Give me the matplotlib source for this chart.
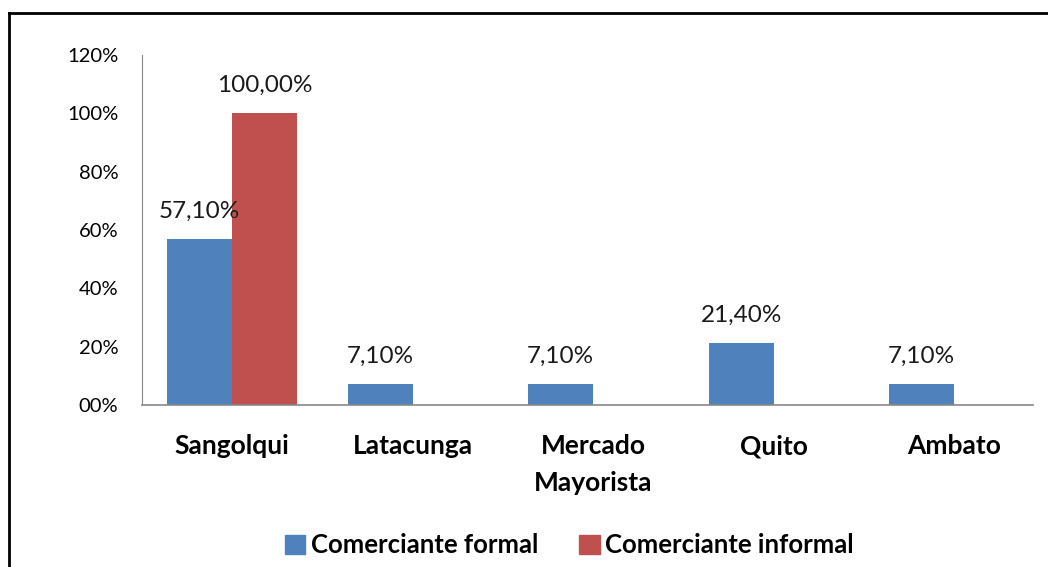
import matplotlib.pyplot as plt
import numpy as np
from matplotlib.lines import Line2D
from matplotlib.patches import Patch

plt.rcParams["font.family"] = ["Lato", "DejaVu Sans"]

ciudades = ["Sangolqui", "Latacunga", "Mercado\nMayorista", "Quito", "Ambato"]
formal = [57.1, 7.1, 7.1, 21.4, 7.1]
informal = [100.0, 0, 0, 0, 0]
formal_txt = ["57,10%", "7,10%", "7,10%", "21,40%", "7,10%"]
informal_txt = ["100,00%", "", "", "", ""]
yticks = [0, 20, 40, 60, 80, 100, 120]

azul = "#4F81BD"
rojo = "#C0504D"

fig = plt.figure(figsize=(10.48, 5.67), dpi=100)
ax = fig.add_axes([0.1355, 0.2857, 0.8500, 0.617])

x = np.arange(len(ciudades))
w = 0.36
b1 = ax.bar(x - w / 2, formal, w, color=azul)
b2 = ax.bar(x + w / 2, informal, w, color=rojo)

for r, t in zip(b1, formal_txt):
    ax.text(r.get_x() + r.get_width() / 2, r.get_height() + 9.5, t,
            ha="center", va="center", fontsize=17.5, color="#1a1a1a")
for r, t in zip(b2, informal_txt):
    if t:
        ax.text(r.get_x() + r.get_width() / 2, r.get_height() + 9.5, t,
                ha="center", va="center", fontsize=17.5, color="#1a1a1a")

ax.set_xlim(-0.5, 4.436)
ax.set_ylim(0, 120)
ax.set_yticks(yticks)
ax.set_yticklabels([f"{v:02d}%" for v in yticks], fontsize=14.5)
ax.set_xticks(x)
ax.set_xticklabels(ciudades, fontsize=19, fontweight="bold", va="top", linespacing=1.65)
ax.tick_params(axis="both", length=0)
ax.tick_params(axis="y", pad=17)
ax.tick_params(axis="x", pad=21)
for s in ["top", "right"]:
    ax.spines[s].set_visible(False)
ax.spines["left"].set_color("#888888")
ax.spines["bottom"].set_color("#888888")
ax.spines["bottom"].set_linewidth(1.2)

handles = [Patch(color=azul, label="Comerciante formal"),
           Patch(color=rojo, label="Comerciante informal")]
fig.legend(handles=handles, loc="center", bbox_to_anchor=(0.543, 0.038),
           ncol=2, frameon=False, prop={"weight": "bold", "size": 18.5},
           handlelength=0.8, handleheight=0.8, handletextpad=0.2, columnspacing=1.6)

# frame of the original picture
fig.add_artist(Line2D([9 / 1048, 9 / 1048], [0, 1 - 13 / 567], color="black", lw=2,
                      transform=fig.transFigure))
fig.add_artist(Line2D([9 / 1048, 1], [1 - 13 / 567, 1 - 13 / 567], color="black", lw=2,
                      transform=fig.transFigure))

fig.savefig("out.png", dpi=100)
